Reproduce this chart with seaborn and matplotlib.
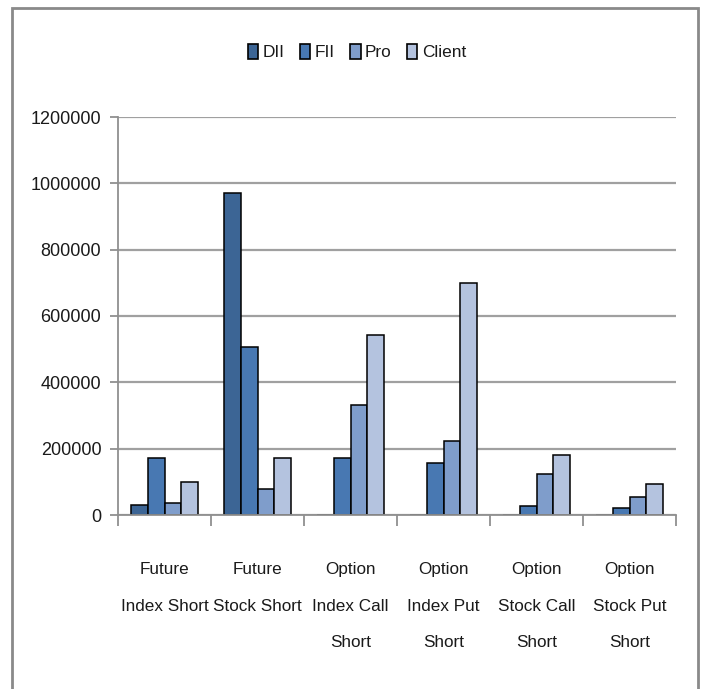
import matplotlib
matplotlib.use("Agg")
import matplotlib.pyplot as plt
import matplotlib.font_manager as fm
import seaborn as sns
import pandas as pd
import numpy as np
from matplotlib.patches import Rectangle, Patch

categories = ["Future\nIndex Short", "Future\nStock Short", "Option\nIndex Call\nShort",
              "Option\nIndex Put\nShort", "Option\nStock Call\nShort", "Option\nStock Put\nShort"]
series = ["DII", "FII", "Pro", "Client"]
dii = [29000, 970000, 0, 0, 0, 0]
fii = [173000, 506000, 171000, 158000, 27000, 20000]
pro = [35000, 78000, 332000, 222000, 123000, 55000]
client = [101000, 173000, 543000, 700000, 180000, 93000]
yticks = [0, 200000, 400000, 600000, 800000, 1000000, 1200000]
colors = ["#3C6595", "#4878B2", "#7F9DCB", "#B4C3DF"]

rows = []
for s, vals in zip(series, [dii, fii, pro, client]):
    for c, v in zip(categories, vals):
        rows.append({"cat": c, "series": s, "value": v})
df = pd.DataFrame(rows)

sns.set_theme(style="white")
names = {f.name for f in fm.fontManager.ttflist}
if "Liberation Sans Narrow" in names:
    fam = "Liberation Sans Narrow"
    ysz, xsz, lsz, lsp = 15.5, 15, 14.5, 2.4
else:
    fam = "Liberation Sans"
    ysz, xsz, lsz, lsp = 13, 12.3, 12.4, 2.8
plt.rcParams["font.family"] = [fam, "DejaVu Sans"]
txt = "#1a1a1a"

fig = plt.figure(figsize=(7.01, 6.89), dpi=100)
ax = fig.add_axes([118/701, 1-515/689, (676-118)/701, (515-117)/689])

sns.barplot(data=df, x="cat", y="value", hue="series", order=categories,
            hue_order=series, palette=colors, width=0.727, edgecolor="black",
            linewidth=1.1, saturation=1, ax=ax, legend=False)

ax.set_ylim(0, 1200000)
ax.set_xlim(-0.5, len(categories) - 0.5)
ax.set_yticks(yticks)
ax.set_yticklabels([str(t) for t in yticks], fontsize=ysz, color=txt)
ax.yaxis.grid(True, color="#A0A0A0", linewidth=1.6)
ax.set_axisbelow(True)
ax.set_xlabel("")
ax.set_ylabel("")
ax.set_xticks(range(len(categories)))
ax.set_xticklabels(categories, fontsize=xsz, color=txt, linespacing=lsp, va="top")
ax.tick_params(axis="x", which="major", length=0, pad=34)
ax.set_xticks(np.arange(-0.5, len(categories), 1.0), minor=True)
ax.tick_params(axis="x", which="minor", length=8, width=1.3, color="#909090", bottom=True)
ax.tick_params(axis="y", length=6, width=1.3, color="#909090", left=True, pad=6)
for side in ["top", "right"]:
    ax.spines[side].set_visible(False)
for side in ["left", "bottom"]:
    ax.spines[side].set_color("#909090")
    ax.spines[side].set_linewidth(1.3)

handles = [Patch(facecolor=c, edgecolor="black", linewidth=1.2) for c in colors]
fig.legend(handles, series, loc="center", bbox_to_anchor=(357/701, 1-52/689), ncol=4,
           frameon=False, fontsize=lsz, handlelength=0.6, handleheight=1.0,
           handletextpad=0.25, columnspacing=0.9, borderaxespad=0,
           labelcolor=txt)

fig.patches.append(Rectangle((12/701, -0.05), (698-12)/701, 1.05-8/689,
                             transform=fig.transFigure, fill=False,
                             edgecolor="#8a8a8a", linewidth=2.0))

fig.savefig("out.png", dpi=100)
